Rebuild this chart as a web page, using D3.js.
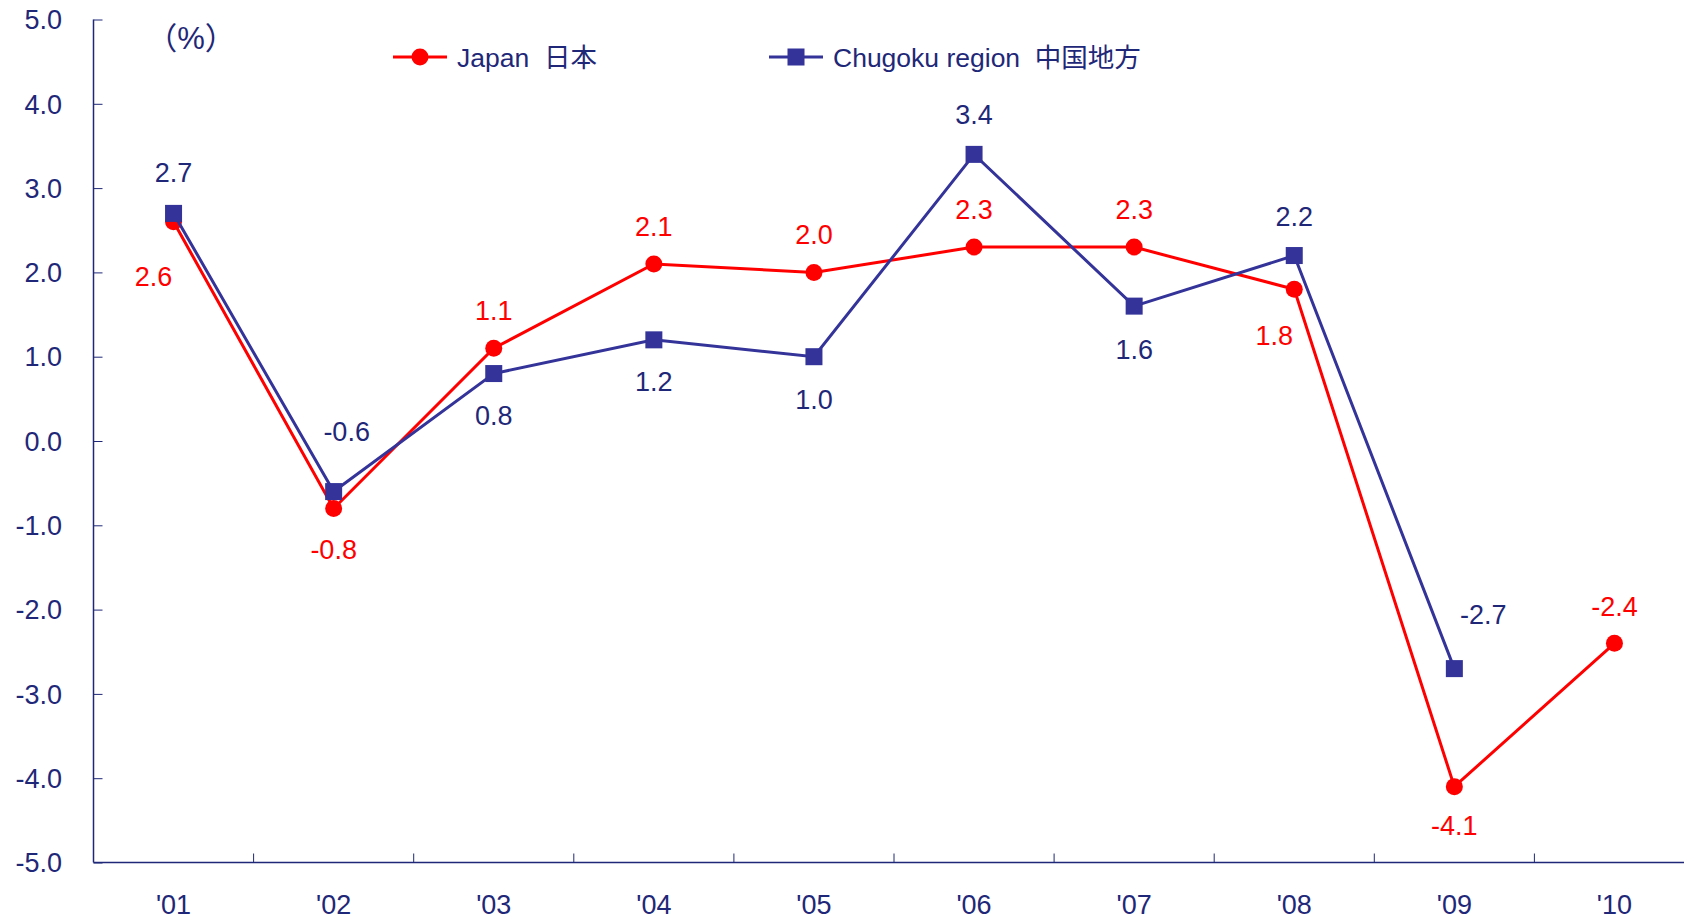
<!DOCTYPE html>
<html>
<head>
<meta charset="utf-8">
<script src="https://cdn.jsdelivr.net/npm/d3@7"></script>
<style>
  body { margin: 0; background: #fff; }
  text { font-family: "Liberation Sans", Arial, "Noto Sans CJK JP", sans-serif; white-space: pre; }
</style>
</head>
<body>
<div id="area"></div>
<script>
let years    = ["'01", "'02", "'03", "'04", "'05", "'06", "'07", "'08", "'09", "'10"];
let japan    = [2.6, -0.8, 1.1, 2.1, 2.0, 2.3, 2.3, 1.8, -4.1, -2.4];
let chugoku  = [2.7, -0.6, 0.8, 1.2, 1.0, 3.4, 1.6, 2.2, -2.7, null];
let yTicks   = [5, 4, 3, 2, 1, 0, -1, -2, -3, -4, -5];
let seriesNames = ["Japan  日本", "Chugoku region  中国地方"];

// where each value label sits relative to its point [dx, dy]
let japanLabelPos   = [[-20, 54], [0, 41], [0, -38], [0, -38], [0, -38], [0, -38], [0, -38], [-20, 46], [0, 39], [0, -37]];
let chugokuLabelPos = [[0, -41], [13, -60], [0, 42], [0, 41], [0, 43], [0, -40], [0, 43], [0, -39], [29, -54], null];

let width  = 1684,
    height = 919;

let navy = "#1f2878",
    red  = "#ff0000",
    blue = "#333399";

// hyphen instead of unicode minus, like the original
let fmt = d => d.toFixed(1);

let svg =
  d3.select("#area")
    .append("svg")
      .attr("width", width)
      .attr("height", height);

let x =
  d3.scaleBand()
    .domain(years)
    .range([93.5, 1694.5]);

let y =
  d3.scaleLinear()
    .domain([-5, 5])
    .range([862.5, 19.5]);

// y axis
let yAxis = svg.append("g")
    .attr("transform", translate(93.5, 0))
    .call(d3.axisRight(y).tickValues(yTicks).tickSize(9).tickFormat(""));
yAxis.select(".domain").attr("stroke", navy).attr("stroke-width", 1.5).attr("d", "M0,19.5V862.5");
yAxis.selectAll(".tick line").attr("stroke", navy);

svg.append("g")
  .selectAll("text")
  .data(yTicks)
  .join("text")
    .attr("x", 62)
    .attr("y", d => y(d))
    .attr("dy", "0.36em")
    .attr("text-anchor", "end")
    .attr("fill", navy)
    .attr("font-size", 27)
    .text(fmt);

// x axis
let bounds = years.slice(1).map(d => x(d));
let xAxis = svg.append("g");
xAxis.append("line")
    .attr("x1", 93.5).attr("x2", width)
    .attr("y1", y(-5)).attr("y2", y(-5))
    .attr("stroke", navy).attr("stroke-width", 1.5);
xAxis.selectAll(".tk")
  .data(bounds)
  .join("line")
    .attr("class", "tk")
    .attr("x1", d => d).attr("x2", d => d)
    .attr("y1", y(-5)).attr("y2", y(-5) - 9)
    .attr("stroke", navy);
xAxis.selectAll("text")
  .data(years)
  .join("text")
    .attr("x", d => x(d) + x.bandwidth() / 2)
    .attr("y", 904)
    .attr("dy", "0.36em")
    .attr("text-anchor", "middle")
    .attr("fill", navy)
    .attr("font-size", 27)
    .text(d => d);

// unit
svg.append("text")
    .attr("x", 191)
    .attr("y", 38)
    .attr("dy", "0.36em")
    .attr("text-anchor", "middle")
    .attr("fill", navy)
    .attr("font-family", "Noto Sans CJK JP")
    .attr("font-size", 31)
    .text("（%）");

function cx(i) { return x(years[i]) + x.bandwidth() / 2; }

let line =
  d3.line()
    .defined(d => d.v !== null)
    .x(d => cx(d.i))
    .y(d => y(d.v));

function drawSeries(values, color, marker, labelPos, labelColor) {
  let pts = values.map((v, i) => ({v: v, i: i}));
  svg.append("path")
      .datum(pts)
      .attr("fill", "none")
      .attr("stroke", color)
      .attr("stroke-width", 3)
      .attr("d", line);
  let valid = pts.filter(d => d.v !== null);
  if (marker === "circle") {
    svg.append("g").selectAll("circle")
      .data(valid)
      .join("circle")
        .attr("cx", d => cx(d.i))
        .attr("cy", d => y(d.v))
        .attr("r", 8.5)
        .attr("fill", color);
  } else {
    svg.append("g").selectAll("rect")
      .data(valid)
      .join("rect")
        .attr("x", d => cx(d.i) - 8.5)
        .attr("y", d => y(d.v) - 8.5)
        .attr("width", 17)
        .attr("height", 17)
        .attr("fill", color);
  }
  svg.append("g").selectAll("text")
    .data(valid)
    .join("text")
      .attr("x", d => cx(d.i) + labelPos[d.i][0])
      .attr("y", d => y(d.v) + labelPos[d.i][1])
      .attr("dy", "0.36em")
      .attr("text-anchor", "middle")
      .attr("fill", labelColor)
      .attr("font-size", 27)
      .text(d => fmt(d.v));
}

drawSeries(japan, red, "circle", japanLabelPos, red);
drawSeries(chugoku, blue, "square", chugokuLabelPos, navy);

// legend
let legend = svg.append("g").attr("transform", translate(0, 57));
let legendX = [393, 769];
seriesNames.forEach(function(name, i) {
  let g = legend.append("g").attr("transform", translate(legendX[i], 0));
  let color = i === 0 ? red : blue;
  g.append("line")
      .attr("x1", 0).attr("x2", 54)
      .attr("stroke", color).attr("stroke-width", 3);
  if (i === 0) {
    g.append("circle").attr("cx", 27).attr("r", 8.5).attr("fill", color);
  } else {
    g.append("rect").attr("x", 18.5).attr("y", -8.5).attr("width", 17).attr("height", 17).attr("fill", color);
  }
  g.append("text")
      .attr("x", 64)
      .attr("dy", "0.36em")
      .attr("fill", navy)
      .attr("font-size", 26.5)
      .text(name);
});

function translate(x, y=0) {
  return "translate({x}, {y})"
          .replace("{x}", x)
          .replace("{y}", y);
}
</script>
</body>
</html>
